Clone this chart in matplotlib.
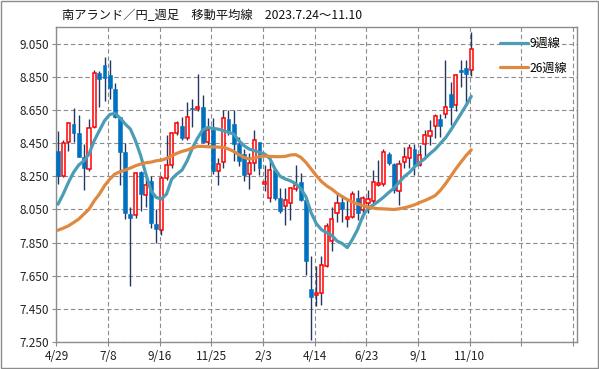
import numpy as np
import matplotlib
matplotlib.use('Agg')
import matplotlib.pyplot as plt
from matplotlib.patches import Rectangle

plt.rcParams['font.family'] = ['Noto Sans CJK JP', 'DejaVu Sans']

# weekly ZAR/JPY candles, 2022/4/29 .. 2023/11/10
opens = [8.405, 8.250, 8.455, 8.566, 8.514, 8.365, 8.294, 8.546, 8.873, 8.925,
         8.865, 8.778, 8.606, 8.400, 8.020, 8.016, 8.274, 8.140, 8.220, 7.965,
         7.928, 8.242, 8.316, 8.514, 8.556, 8.483, 8.664, 8.657, 8.670, 8.455,
         8.527, 8.283, 8.334, 8.595, 8.565, 8.445, 8.388, 8.262, 8.330, 8.458,
         8.204, 8.122, 8.290, 8.119, 8.074, 8.089, 8.173, 8.213, 8.109, 7.570,
         7.532, 7.546, 7.710, 7.858, 8.027, 8.098, 7.991, 8.007, 8.122, 8.047,
         8.092, 8.104, 8.200, 8.205, 8.386, 8.325, 8.162, 8.334, 8.361, 8.417,
         8.321, 8.448, 8.492, 8.554, 8.598, 8.628, 8.749, 8.679, 8.895, 8.905,
         8.893]
highs = [8.526, 8.471, 8.576, 8.663, 8.621, 8.445, 8.596, 8.890, 8.885, 8.973,
         8.955, 8.814, 8.610, 8.450, 8.066, 8.275, 8.280, 8.255, 8.250, 8.055,
         8.252, 8.500, 8.515, 8.587, 8.610, 8.700, 8.720, 8.869, 8.740, 8.600,
         8.600, 8.362, 8.650, 8.650, 8.650, 8.485, 8.415, 8.390, 8.530, 8.460,
         8.320, 8.350, 8.300, 8.180, 8.180, 8.183, 8.320, 8.270, 8.110, 7.767,
         7.707, 7.767, 7.970, 8.064, 8.148, 8.138, 8.108, 8.162, 8.168, 8.132,
         8.168, 8.289, 8.350, 8.414, 8.400, 8.330, 8.350, 8.430, 8.448, 8.448,
         8.442, 8.528, 8.588, 8.628, 8.628, 8.950, 8.819, 8.869, 8.954, 8.950,
         9.120]
lows = [8.203, 8.245, 8.401, 8.455, 8.365, 8.169, 8.280, 8.545, 8.667, 8.703,
        8.720, 8.600, 8.199, 7.992, 7.590, 8.000, 8.040, 8.065, 7.940, 7.850,
        7.897, 8.230, 8.300, 8.500, 8.470, 8.470, 8.550, 8.643, 8.450, 8.440,
        8.263, 8.195, 8.300, 8.500, 8.342, 8.310, 8.223, 8.175, 8.280, 8.260,
        8.160, 8.098, 8.110, 8.030, 7.958, 7.988, 8.160, 8.100, 7.657, 7.265,
        7.466, 7.476, 7.700, 7.797, 7.977, 7.977, 7.947, 8.000, 7.987, 8.000,
        8.027, 8.090, 8.190, 8.190, 8.320, 8.150, 8.078, 8.300, 8.300, 8.261,
        8.310, 8.367, 8.440, 8.480, 8.488, 8.600, 8.558, 8.642, 8.789, 8.683,
        8.859]
closes = [8.254, 8.451, 8.572, 8.510, 8.369, 8.298, 8.542, 8.875, 8.838, 8.844,
          8.784, 8.606, 8.395, 8.030, 8.000, 8.270, 8.143, 8.200, 7.967, 7.932,
          8.242, 8.316, 8.513, 8.574, 8.482, 8.609, 8.657, 8.667, 8.458, 8.532,
          8.285, 8.324, 8.600, 8.525, 8.446, 8.340, 8.258, 8.333, 8.468, 8.298,
          8.214, 8.290, 8.119, 8.040, 8.109, 8.179, 8.199, 8.109, 7.737, 7.522,
          7.544, 7.717, 7.948, 7.992, 8.088, 8.052, 8.003, 8.142, 8.027, 8.122,
          8.112, 8.213, 8.210, 8.396, 8.329, 8.168, 8.325, 8.364, 8.422, 8.321,
          8.381, 8.498, 8.526, 8.616, 8.552, 8.670, 8.669, 8.863, 8.879, 8.870,
          9.020]

# moving averages
ma9 = [8.082, 8.143, 8.213, 8.274, 8.318, 8.344, 8.385, 8.465, 8.526, 8.586,
       8.623, 8.631, 8.602, 8.566, 8.536, 8.465, 8.375, 8.264, 8.163, 8.123,
       8.113, 8.143, 8.233, 8.264, 8.288, 8.344, 8.420, 8.480, 8.530, 8.545,
       8.540, 8.535, 8.526, 8.516, 8.506, 8.466, 8.435, 8.415, 8.405, 8.395,
       8.385, 8.358, 8.294, 8.250, 8.234, 8.223, 8.206, 8.176, 8.126, 8.030,
       7.965, 7.928, 7.910, 7.894, 7.860, 7.845, 7.820, 7.870, 7.930, 8.010,
       8.057, 8.077, 8.099, 8.124, 8.152, 8.178, 8.213, 8.248, 8.273, 8.307,
       8.333, 8.357, 8.387, 8.413, 8.448, 8.482, 8.528, 8.578, 8.628, 8.679,
       8.733]
ma26 = [7.925, 7.937, 7.951, 7.971, 7.992, 8.022, 8.052, 8.102, 8.143, 8.193,
        8.233, 8.264, 8.278, 8.288, 8.300, 8.314, 8.324, 8.332, 8.336, 8.344,
        8.348, 8.358, 8.375, 8.389, 8.401, 8.409, 8.421, 8.431, 8.431, 8.429,
        8.427, 8.427, 8.425, 8.415, 8.401, 8.381, 8.365, 8.354, 8.360, 8.369,
        8.373, 8.371, 8.369, 8.369, 8.371, 8.379, 8.381, 8.365, 8.334, 8.294,
        8.254, 8.219, 8.193, 8.173, 8.148, 8.128, 8.110, 8.095, 8.084, 8.074,
        8.065, 8.059, 8.055, 8.054, 8.052, 8.050, 8.054, 8.060, 8.068, 8.078,
        8.092, 8.104, 8.118, 8.134, 8.165, 8.205, 8.249, 8.295, 8.336, 8.376,
        8.410]

xlabels = ['4/29', '7/8', '9/16', '11/25', '2/3', '4/14', '6/23', '9/1', '11/10', '', '']
title = '南アランド／円_週足　移動平均線　2023.7.24～11.10'

o = np.array(opens); h = np.array(highs); l = np.array(lows); c = np.array(closes)
x = np.arange(len(c)) + 0.3
up = c >= o

fig = plt.figure(figsize=(5.99, 3.69), dpi=100)
ax = fig.add_axes([0.0943, 0.0732, 0.8684, 0.8528])
ax.set_axisbelow(True)

# wicks
ax.vlines(x, l, h, color='#1f3864', lw=1.0, zorder=2)
# bodies
ax.bar(x[up], c[up] - o[up], bottom=o[up], width=0.62, facecolor='white',
       edgecolor='#ff0000', lw=1.1, zorder=3)
ax.bar(x[~up], o[~up] - c[~up], bottom=c[~up], width=0.75, facecolor='#0070c0',
       edgecolor='#0070c0', lw=0.4, zorder=3)

l9, = ax.plot(x, ma9, color='#4a9db5', lw=2.3, zorder=4, solid_capstyle='round')
l26, = ax.plot(x, ma26, color='#e0883f', lw=2.3, zorder=4, solid_capstyle='round')

ax.set_xlim(0, 100.7)
ax.set_ylim(7.25, 9.15)
ax.set_xticks(np.arange(0, 101, 10))
ax.set_xticklabels(xlabels)
ax.set_yticks(np.arange(7.25, 9.06, 0.2))
ax.set_yticklabels(['%.3f' % v for v in np.arange(7.25, 9.06, 0.2)])
ax.grid(True, color='#8c8c8c', ls=(0, (4, 2.5)), lw=0.8)
ax.tick_params(axis='both', direction='out', length=3, color='#8c8c8c',
               labelsize=8.5, labelcolor='#222222', pad=2.5)
for sp in ax.spines.values():
    sp.set_color('#8c8c8c')
    sp.set_linewidth(1.0)

ax.legend([l9, l26], ['9週線', '26週線'], loc='upper left',
          bbox_to_anchor=(0.8526, 0.969), frameon=False, borderpad=0,
          borderaxespad=0, handlelength=2.33, handletextpad=0.1,
          labelspacing=0.95, fontsize=8.7)

fig.text(0.104, 0.958, title, fontsize=8.8, ha='left', va='center', color='#111111')

fig.patches.append(Rectangle((0.001, 0.002), 0.997, 0.996, transform=fig.transFigure,
                             fill=False, ec='#8c8c8c', lw=1.0))

fig.savefig('out.png', dpi=100)
